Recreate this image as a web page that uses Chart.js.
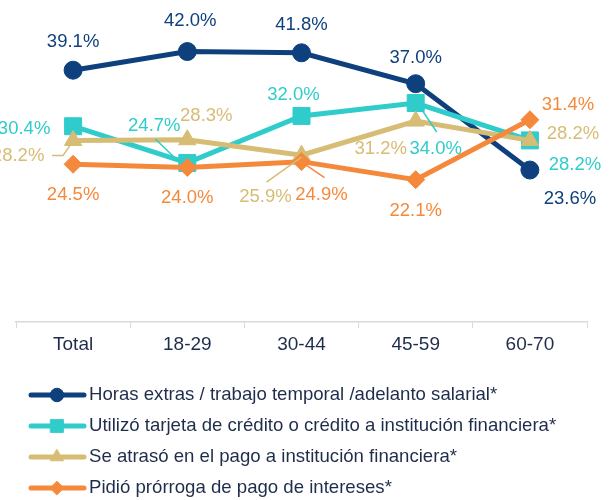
<!DOCTYPE html>
<html>
<head>
<meta charset="utf-8">
<script src="https://cdn.jsdelivr.net/npm/chart.js@4/dist/chart.umd.min.js"></script>
<style>
  html, body { margin: 0; padding: 0; background: #ffffff; }
  #wrap { width: 613px; height: 500px; position: relative; }
</style>
</head>
<body>
<div id="wrap"><canvas id="myChartStrategies"></canvas></div>
<script>
const categories = ["Total", "18-29", "30-44", "45-59", "60-70"];

const horasExtras = [39.1, 42.0, 41.8, 37.0, 23.6];
const tarjetaCredito = [30.4, 24.7, 32.0, 34.0, 28.2];
const atrasoPago = [28.2, 28.3, 25.9, 31.2, 28.2];
const prorrogaIntereses = [24.5, 24.0, 24.9, 22.1, 31.4];

const seriesNames = [
  "Horas extras / trabajo temporal /adelanto salarial*",
  "Utilizó tarjeta de crédito o crédito a institución financiera*",
  "Se atrasó en el pago a institución financiera*",
  "Pidió prórroga de pago de intereses*",
];

// label placement, offsets from the point (text centre)
const labelOffsets = [
  [[0, -28], [3, -31], [0, -28], [0, -26], [40, 29]],
  [[-49, 3], [-33, -37], [-8, -21], [20, 46], [45, 25]],
  [[-55, 16], [19, -24], [-36, 42], [-35, 28], [43, -6]],
  [[0, 31], [0, 30], [20, 33], [0, 31], [38, -15]],
];
// leader lines for the labels that were moved away
const leaderLines = [
  [null, null, null, null, null],
  [null, [[-32, -24], [-7, 0]], null, [[21, 29], [7, 8]], null],
  [[[-21, 15], [-10, 15], [-3, 5]], null, [[-35, 27], [0, 2]], null, null],
  [null, null, [[1, 1], [23, 16]], null, null],
];

const textColor = "#1f2d4b";
const fontName = "'Liberation Sans', Arial, sans-serif";

const dataLabelsPlugin = {
  id: "dataLabels",
  afterDatasetsDraw(chart) {
    const ctx = chart.ctx;
    ctx.save();
    chart.data.datasets.forEach((ds, i) => {
      const meta = chart.getDatasetMeta(i);
      meta.data.forEach((pt, j) => {
        const lead = leaderLines[i][j];
        if (lead) {
          ctx.beginPath();
          ctx.strokeStyle = ds.borderColor;
          ctx.lineWidth = 1.5;
          lead.forEach((p, k) => {
            if (k === 0) ctx.moveTo(pt.x + p[0], pt.y + p[1]);
            else ctx.lineTo(pt.x + p[0], pt.y + p[1]);
          });
          ctx.stroke();
        }
        const off = labelOffsets[i][j];
        ctx.font = "18.5px " + fontName;
        ctx.fillStyle = ds.borderColor;
        ctx.textAlign = "center";
        ctx.textBaseline = "middle";
        ctx.fillText(ds.data[j].toFixed(1) + "%", pt.x + off[0], pt.y + off[1]);
      });
    });
    ctx.restore();
  },
};

const legendPlugin = {
  id: "lineLegend",
  afterDraw(chart) {
    const ctx = chart.ctx;
    ctx.save();
    chart.data.datasets.forEach((ds, i) => {
      const y = 395 + i * 31;
      ctx.beginPath();
      ctx.strokeStyle = ds.borderColor;
      ctx.lineWidth = 5;
      ctx.lineCap = "round";
      ctx.moveTo(31, y);
      ctx.lineTo(84, y);
      ctx.stroke();
      ctx.fillStyle = ds.borderColor;
      ctx.strokeStyle = ds.borderColor;
      ctx.lineWidth = 1;
      Chart.helpers.drawPoint(ctx, { pointStyle: ds.pointStyle, radius: ds.pointRadius * 0.75, borderWidth: 1 }, 57, y);
      ctx.font = "18.6px " + fontName;
      ctx.fillStyle = textColor;
      ctx.textAlign = "left";
      ctx.textBaseline = "middle";
      ctx.fillText(ds.label, 89, y);
    });
    ctx.restore();
  },
};

const makeSeries = (label, data, color, style, radius, order) => ({
  label: label,
  data: data,
  borderColor: color,
  backgroundColor: color,
  pointBackgroundColor: color,
  pointBorderColor: color,
  pointBorderWidth: 1,
  borderWidth: 5,
  pointStyle: style,
  pointRadius: radius,
  pointHoverRadius: radius,
  tension: 0,
  clip: false,
  order: order,
});

const ctx = document.getElementById("myChartStrategies").getContext("2d");
const myChart = new Chart(ctx, {
  type: "line",
  data: {
    labels: categories,
    datasets: [
      makeSeries(seriesNames[0], horasExtras, "#0e407d", "circle", 9, 4),
      makeSeries(seriesNames[1], tarjetaCredito, "#2fcccb", "rect", 12, 3),
      makeSeries(seriesNames[2], atrasoPago, "#d6bc74", "triangle", 10, 2),
      makeSeries(seriesNames[3], prorrogaIntereses, "#f5893b", "rectRot", 9, 1),
    ],
  },
  options: {
    responsive: true,
    maintainAspectRatio: false,
    animation: false,
    layout: {
      autoPadding: false,
      padding: { left: 16, right: 26, top: 0, bottom: 138 },
    },
    scales: {
      x: {
        offset: true,
        grid: {
          offset: true,
          drawOnChartArea: false,
          drawTicks: true,
          tickLength: 6,
          color: "#d9d9d9",
        },
        border: { display: true, color: "#d9d9d9", width: 1.5 },
        ticks: {
          color: textColor,
          padding: 5,
          font: { size: 19, family: fontName },
        },
        afterFit: (scale) => {
          scale.height = 40;
        },
      },
      y: {
        display: false,
        min: 0,
        max: 50,
      },
    },
    plugins: {
      legend: { display: false },
      tooltip: { enabled: false },
    },
  },
  plugins: [dataLabelsPlugin, legendPlugin],
});
</script>
</body>
</html>
